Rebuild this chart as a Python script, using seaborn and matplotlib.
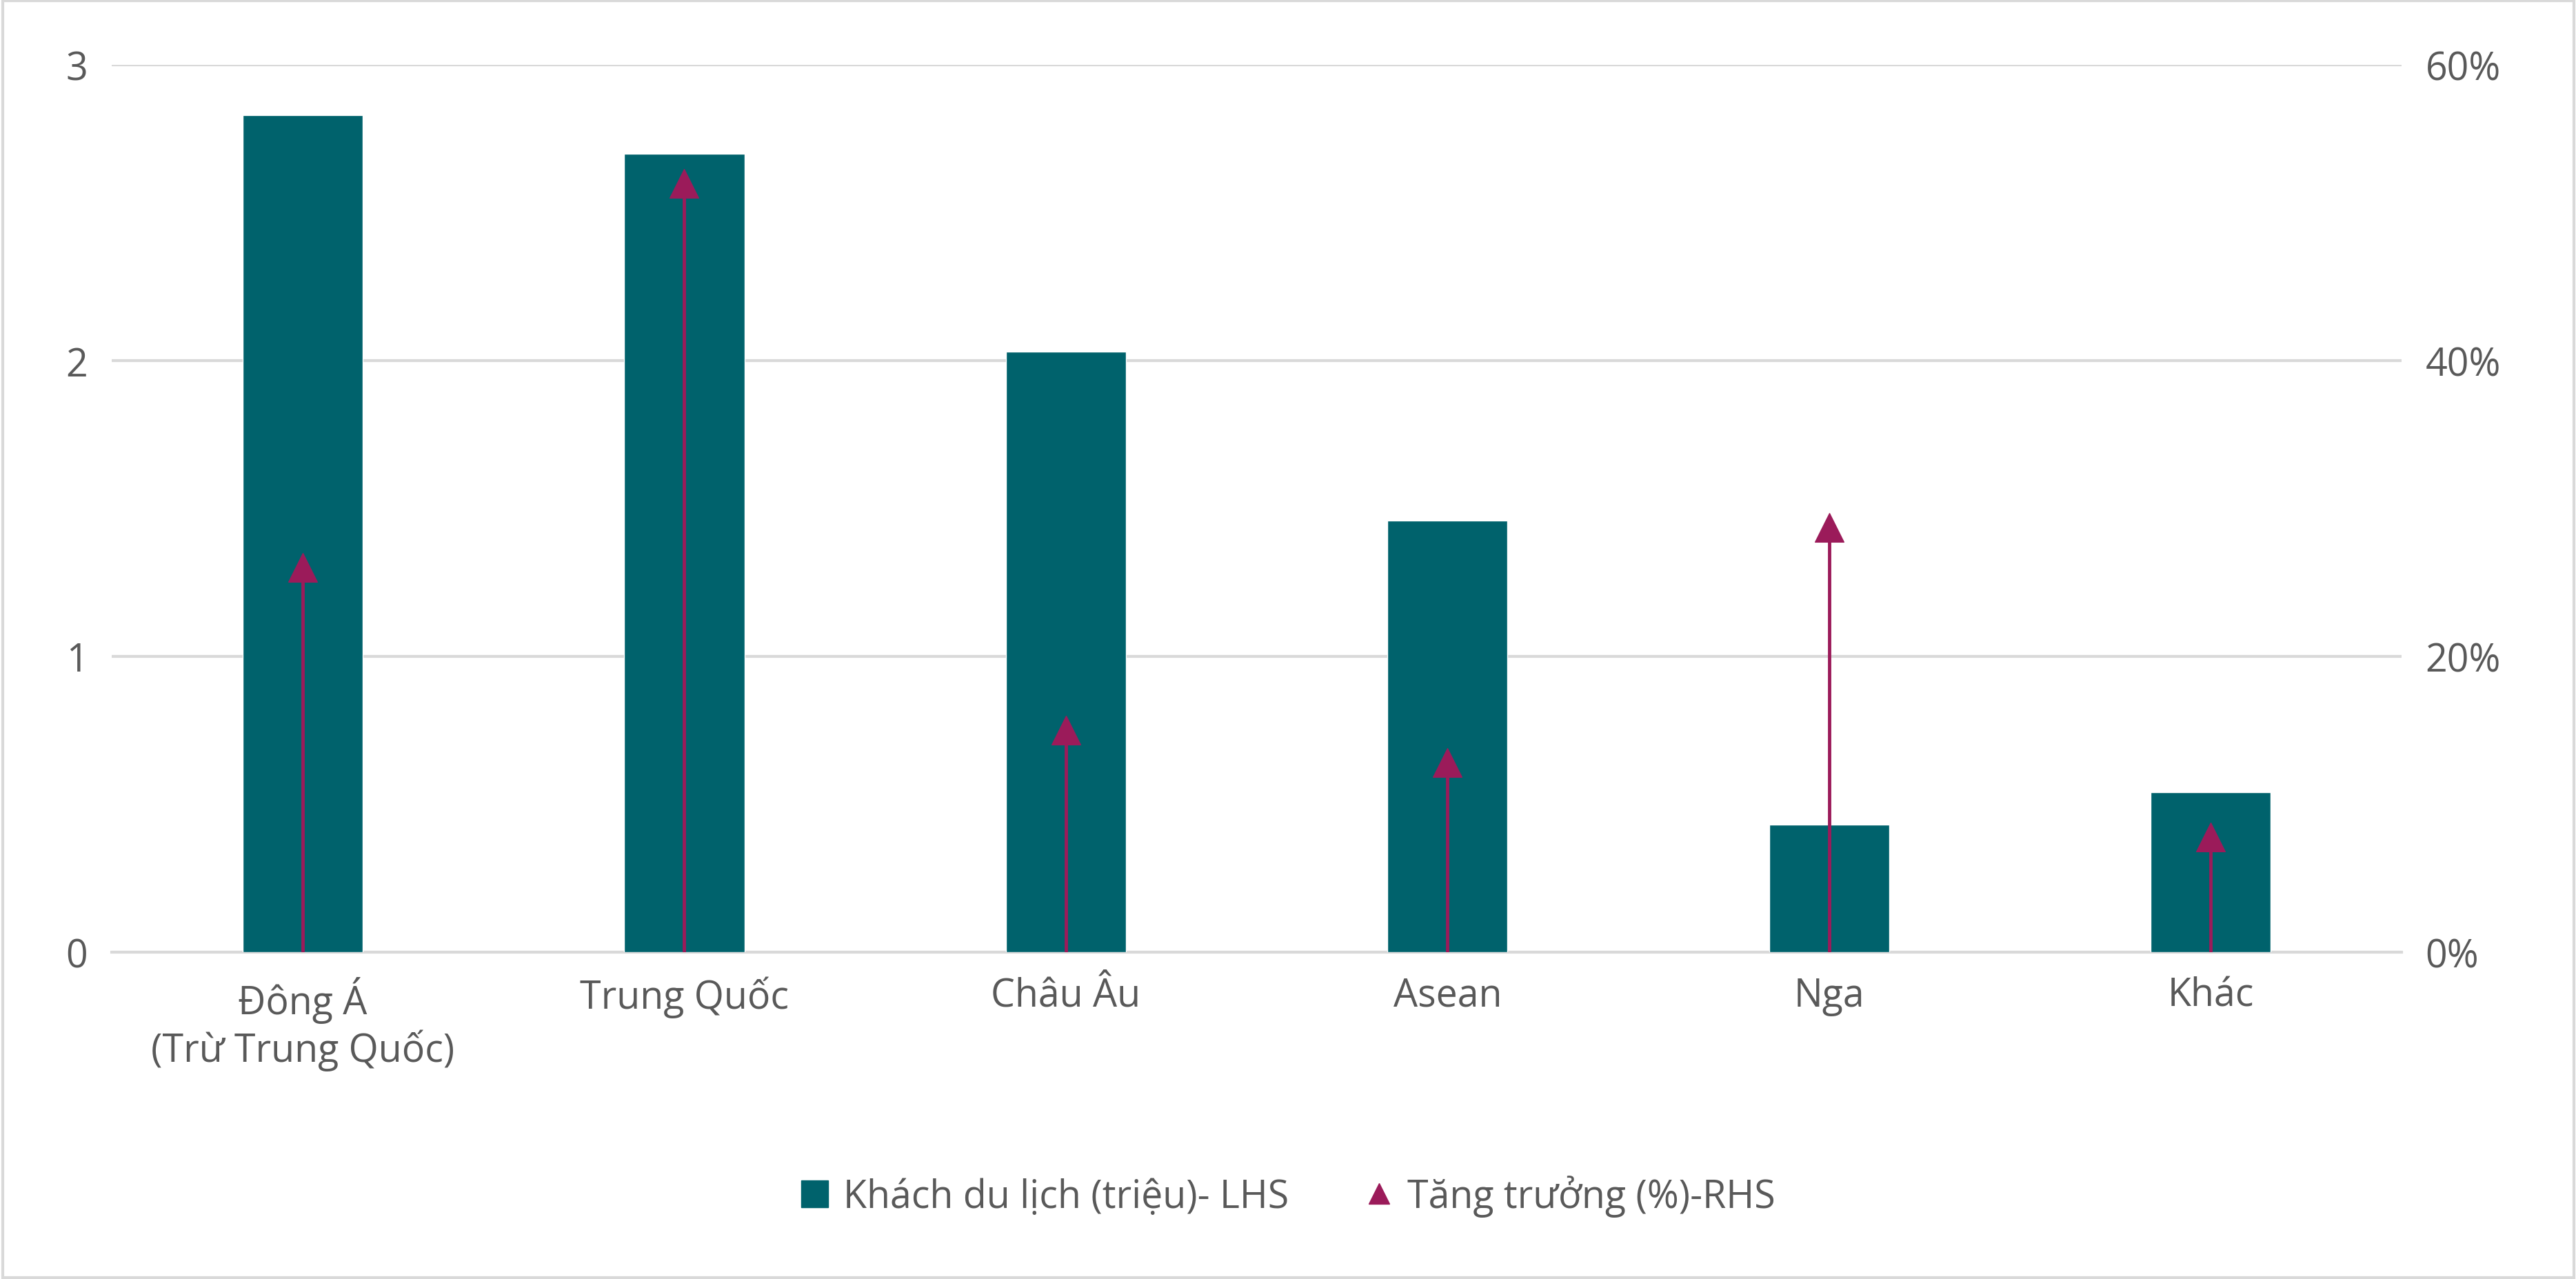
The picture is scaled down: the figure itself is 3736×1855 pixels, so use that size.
import matplotlib
matplotlib.use("Agg")
import matplotlib.pyplot as plt
import seaborn as sns
import pandas as pd
from matplotlib.lines import Line2D
from matplotlib.patches import Patch

categories = ["Đông Á\n(Trừ Trung Quốc)", "Trung Quốc", "Châu Âu", "Asean", "Nga", "Khác"]
visitors = [2.83, 2.70, 2.03, 1.46, 0.43, 0.54]
growth = [26.0, 52.0, 15.0, 12.8, 28.7, 7.8]

sns.set_theme(style="white")
plt.rcParams['font.family'] = ['Open Sans', 'DejaVu Sans']
teal = "#00626C"
mag = "#9B1B5A"
grey = "#595959"

fig = plt.figure(figsize=(37.37, 18.56), dpi=100)
ax = fig.add_axes([0.0434, 0.2555, 0.8886, 0.6932])
df = pd.DataFrame({"cat": categories, "v": visitors})
sns.barplot(data=df, x="cat", y="v", color=teal, width=0.315, saturation=1, ax=ax, zorder=3)
ax.set_ylim(0, 3)
ax.set_yticks([0, 1, 2, 3])
ax.set_xlim(-0.5, 5.5)
ax.set_xlabel(""); ax.set_ylabel("")
ax.grid(axis="y", color="#D9D9D9", linewidth=3, zorder=0)
for s in ["top", "right", "left"]:
    ax.spines[s].set_visible(False)
ax.spines["bottom"].set_color("#D9D9D9"); ax.spines["bottom"].set_linewidth(3)
ax.tick_params(axis="both", labelsize=40, colors=grey, length=0, pad=25)

ax2 = ax.twinx()
ax2.set_ylim(0, 60)
ax2.set_yticks([0, 20, 40, 60])
ax2.set_yticklabels(["0%", "20%", "40%", "60%"])
x = list(range(len(categories)))
ax2.vlines(x, 0, growth, color=mag, linewidth=3.5, zorder=4)
ax2.scatter(x, growth, marker="^", s=900, color=mag, zorder=5)
for s in ["top", "right", "left", "bottom"]:
    ax2.spines[s].set_visible(False)
ax2.tick_params(axis="y", labelsize=40, colors=grey, length=0, pad=25)

handles = [Patch(color=teal, label="Khách du lịch (triệu)- LHS"),
           Line2D([], [], marker="^", color=mag, linestyle="none", markersize=22, label="Tăng trưởng (%)-RHS")]
leg = fig.legend(handles=handles, loc="center", bbox_to_anchor=(0.5, 0.065), ncol=2, frameon=False,
                 fontsize=40, handlelength=0.7, handletextpad=0.4, columnspacing=2.0)
for t in leg.get_texts():
    t.set_color(grey)

fig.patches.append(plt.Rectangle((0.001, 0.001), 0.998, 0.998, transform=fig.transFigure,
                                 fill=False, edgecolor="#D9D9D9", linewidth=3))
fig.savefig("out.png", dpi=100)
